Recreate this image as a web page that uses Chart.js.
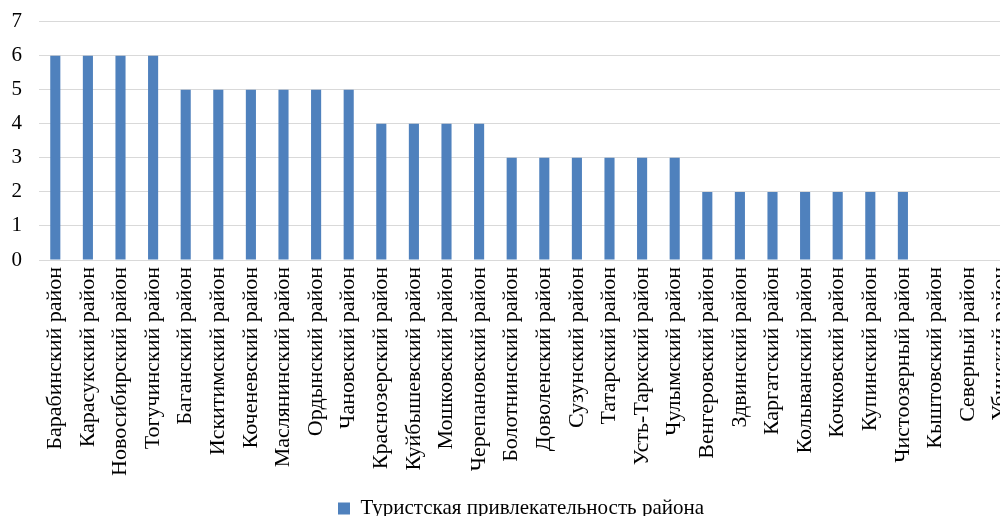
<!DOCTYPE html>
<html>
<head>
<meta charset="utf-8">
<script src="https://cdn.jsdelivr.net/npm/chart.js@4"></script>
<style>
  html, body { margin: 0; padding: 0; background: #fff; overflow: hidden; }
  #wrap { width: 1042px; height: 537px; position: relative; top: -8px; }
</style>
</head>
<body>
<div id="wrap"><canvas id="myChart"></canvas></div>
<script>
// районы и оценки
let rayony = [
  "Барабинский район", "Карасукский район", "Новосибирский район", "Тогучинский район",
  "Баганский район", "Искитимский район", "Коченевский район", "Маслянинский район",
  "Ордынский район", "Чановский район", "Краснозерский район", "Куйбышевский район",
  "Мошковский район", "Черепановский район", "Болотнинский район", "Доволенский район",
  "Сузунский район", "Татарский район", "Усть-Таркский район", "Чулымский район",
  "Венгеровский район", "Здвинский район", "Каргатский район", "Колыванский район",
  "Кочковский район", "Купинский район", "Чистоозерный район", "Кыштовский район",
  "Северный район", "Убинский район"
];
let ocenki = [6, 6, 6, 6, 5, 5, 5, 5, 5, 5, 4, 4, 4, 4, 3, 3, 3, 3, 3, 3, 2, 2, 2, 2, 2, 2, 2, 0, 0, 0];
let nazvanie = "Туристская привлекательность района";
let yTicks = [0, 1, 2, 3, 4, 5, 6, 7];

const police = "'Liberation Serif', 'Times New Roman', serif";

const data = {
  labels: rayony,
  datasets: [
    {
      label: nazvanie,
      data: ocenki,
      backgroundColor: "#4F81BD",
      borderWidth: 0,
      barPercentage: 0.62,
      categoryPercentage: 0.5,
    },
  ],
};

const config = {
  type: "bar",
  data: data,
  options: {
    responsive: true,
    maintainAspectRatio: false,
    animation: false,
    layout: { padding: { top: 0, right: 0, left: 0, bottom: 0 } },
    plugins: {
      legend: {
        position: "bottom",
        labels: {
          color: "#000",
          font: { family: police, size: 21 },
          boxWidth: 12,
          boxHeight: 12,
          padding: 6,
        },
      },
      tooltip: { enabled: false },
    },
    scales: {
      x: {
        grid: { display: false, drawTicks: false },
        border: { color: "#d9d9d9", width: 1 },
        ticks: {
          color: "#000",
          font: { family: police, size: 22 },
          minRotation: 90,
          maxRotation: 90,
          autoSkip: false,
          padding: 7,
        },
        afterFit: (axis) => { axis.height = 232; },
      },
      y: {
        min: 0,
        max: 7,
        afterBuildTicks: (axis) => { axis.ticks = yTicks.map((v) => ({ value: v })); },
        grid: { color: "#d9d9d9", lineWidth: 1, drawTicks: false },
        border: { display: false },
        ticks: {
          color: "#000",
          font: { family: police, size: 21 },
          padding: 17,
        },
        afterFit: (axis) => { axis.width = 39; },
      },
      // marge droite (axe vide)
      y2: {
        position: "right",
        grid: { display: false, drawTicks: false },
        border: { display: false },
        ticks: { display: false },
        afterFit: (axis) => { axis.width = 25; },
      },
    },
  },
};

let context = document.getElementById("myChart").getContext("2d");
let chart = new Chart(context, config);
</script>
</body>
</html>
